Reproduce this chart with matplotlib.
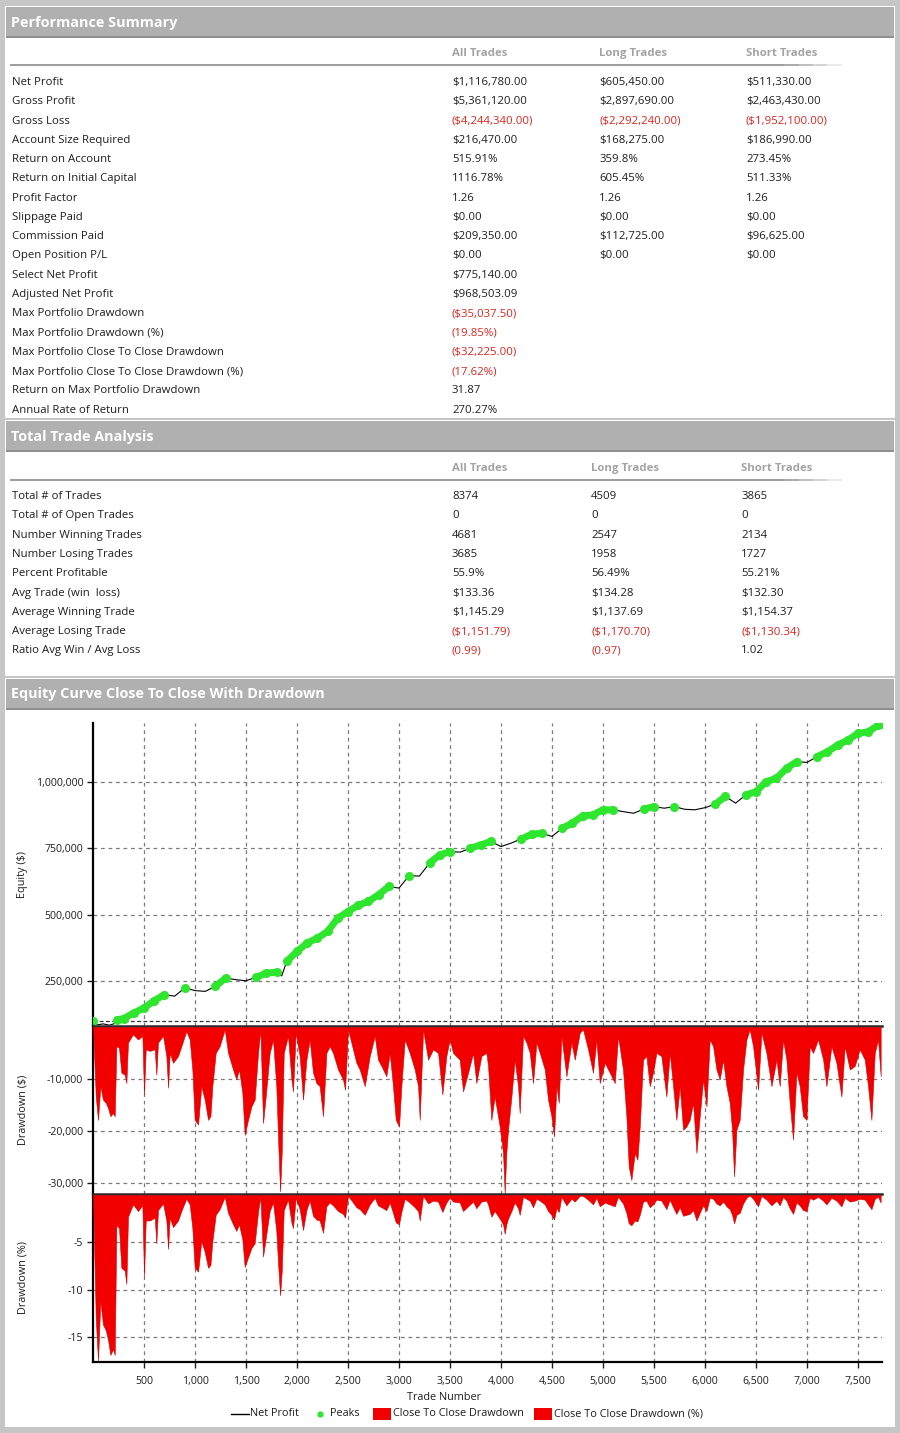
import numpy as np
import matplotlib.pyplot as plt
from matplotlib.patches import Rectangle
from matplotlib.lines import Line2D
from matplotlib.collections import LineCollection
from matplotlib.ticker import FuncFormatter

# ---------------- table data ----------------
col_heads = ["All Trades", "Long Trades", "Short Trades"]

perf_labels = [
    "Net Profit", "Gross Profit", "Gross Loss", "Account Size Required",
    "Return on Account", "Return on Initial Capital", "Profit Factor",
    "Slippage Paid", "Commission Paid", "Open Position P/L", "Select Net Profit",
    "Adjusted Net Profit", "Max Portfolio Drawdown", "Max Portfolio Drawdown (%)",
    "Max Portfolio Close To Close Drawdown", "Max Portfolio Close To Close Drawdown (%)",
    "Return on Max Portfolio Drawdown", "Annual Rate of Return",
]
perf_all = [
    "$1,116,780.00", "$5,361,120.00", "($4,244,340.00)", "$216,470.00", "515.91%",
    "1116.78%", "1.26", "$0.00", "$209,350.00", "$0.00", "$775,140.00", "$968,503.09",
    "($35,037.50)", "(19.85%)", "($32,225.00)", "(17.62%)", "31.87", "270.27%",
]
perf_long = [
    "$605,450.00", "$2,897,690.00", "($2,292,240.00)", "$168,275.00", "359.8%",
    "605.45%", "1.26", "$0.00", "$112,725.00", "$0.00",
]
perf_short = [
    "$511,330.00", "$2,463,430.00", "($1,952,100.00)", "$186,990.00", "273.45%",
    "511.33%", "1.26", "$0.00", "$96,625.00", "$0.00",
]

trade_labels = [
    "Total # of Trades", "Total # of Open Trades", "Number Winning Trades",
    "Number Losing Trades", "Percent Profitable", "Avg Trade (win  loss)",
    "Average Winning Trade", "Average Losing Trade", "Ratio Avg Win / Avg Loss",
]
trade_all = ["8374", "0", "4681", "3685", "55.9%", "$133.36", "$1,145.29", "($1,151.79)", "(0.99)"]
trade_long = ["4509", "0", "2547", "1958", "56.49%", "$134.28", "$1,137.69", "($1,170.70)", "(0.97)"]
trade_short = ["3865", "0", "2134", "1727", "55.21%", "$132.30", "$1,154.37", "($1,130.34)", "1.02"]

# ---------------- chart data ----------------
initial_capital = 100000
eq_trade = [0, 40, 100, 160, 220, 240, 300, 400, 500, 600, 700, 800, 900, 1000, 1100,
            1200, 1300, 1400, 1500, 1600, 1700, 1800, 1850, 1900, 2000, 2100, 2200, 2300,
            2400, 2500, 2600, 2700, 2800, 2900, 3000, 3100, 3200, 3300, 3400, 3500, 3600,
            3700, 3800, 3900, 4000, 4100, 4200, 4300, 4400, 4500, 4600, 4700, 4800, 4900,
            5000, 5100, 5200, 5300, 5400, 5500, 5600, 5700, 5800, 5900, 6000, 6100, 6200,
            6300, 6400, 6500, 6600, 6700, 6800, 6900, 7000, 7100, 7200, 7300, 7400, 7500,
            7600, 7700, 7735]
equity = [100000, 86000, 90000, 85000, 92000, 106000, 110000, 131000, 150000, 177000,
          200000, 194000, 225000, 215000, 212000, 231000, 262000, 256000, 252000, 265000,
          281000, 284000, 270000, 325000, 362000, 394000, 412000, 437000, 487000, 512000,
          535000, 550000, 575000, 606000, 600000, 647000, 645000, 694000, 725000, 737000,
          735000, 750000, 762000, 775000, 756000, 769000, 785000, 802000, 806000, 794000,
          825000, 844000, 871000, 875000, 894000, 894000, 887000, 881000, 897000, 906000,
          900000, 906000, 896000, 894000, 902000, 915000, 944000, 919000, 950000, 962000,
          1000000, 1012000, 1050000, 1075000, 1072000, 1094000, 1112000, 1137000, 1156000,
          1181000, 1187000, 1212000, 1217000]

dd_trade = [0, 27, 49, 72, 98, 125, 147, 170, 196, 213, 229, 255, 278, 311, 327, 343, 392,
            441, 484, 500, 517, 556, 605, 621, 637, 687, 719, 736, 752, 785, 834, 866, 915,
            948, 974, 997, 1030, 1062, 1095, 1128, 1151, 1170, 1203, 1242, 1291, 1324, 1373,
            1405, 1432, 1464, 1487, 1520, 1553, 1585, 1618, 1641, 1667, 1693, 1732, 1765,
            1797, 1817, 1834, 1850, 1870, 1912, 1945, 1961, 1987, 2026, 2059, 2092, 2124,
            2157, 2190, 2222, 2255, 2288, 2320, 2353, 2402, 2451, 2471, 2500, 2549, 2582,
            2615, 2664, 2713, 2762, 2794, 2827, 2876, 2909, 2941, 2968, 3000, 3023, 3056,
            3105, 3154, 3187, 3203, 3236, 3285, 3334, 3383, 3425, 3464, 3497, 3530, 3595,
            3628, 3677, 3726, 3758, 3807, 3856, 3873, 3905, 3938, 3987, 4020, 4036, 4052,
            4069, 4102, 4134, 4167, 4183, 4216, 4249, 4282, 4314, 4347, 4380, 4429, 4461,
            4494, 4520, 4543, 4566, 4592, 4641, 4690, 4723, 4772, 4804, 4853, 4902, 4935,
            4968, 5017, 5066, 5115, 5147, 5196, 5229, 5252, 5278, 5311, 5337, 5360, 5392,
            5425, 5458, 5490, 5523, 5572, 5621, 5654, 5687, 5719, 5752, 5785, 5817, 5850,
            5883, 5916, 5948, 5981, 6014, 6046, 6079, 6112, 6144, 6177, 6210, 6242, 6265,
            6285, 6308, 6340, 6373, 6406, 6438, 6471, 6520, 6553, 6602, 6651, 6700, 6732,
            6765, 6798, 6830, 6863, 6896, 6928, 6961, 6994, 7027, 7059, 7108, 7158, 7190,
            7239, 7288, 7337, 7370, 7419, 7468, 7517, 7566, 7598, 7631, 7664, 7696, 7722]
dd_usd = [0, -13400, -17900, -11400, -14000, -14600, -15600, -17200, -16600, -17200, -3700,
          -4000, -8800, -9200, -10800, -3000, -1400, -2400, -1700, -13000, -4300, -4600,
          -4300, -9200, -3000, -1700, -5600, -11700, -5000, -6900, -5600, -3700, -800, -2400,
          -8200, -17900, -18800, -11400, -14000, -17900, -17200, -11400, -5000, -3700, -450,
          -5000, -8200, -10100, -8200, -12700, -20800, -17900, -15300, -14000, -5000, -450,
          -18500, -13400, -5000, -2400, -11400, -23000, -31700, -24300, -5000, -1700, -10100,
          -12400, -1100, -5600, -14000, -6300, -2400, -8800, -10800, -11400, -17200, -5000,
          -3700, -5000, -8200, -10100, -12100, -450, -4300, -6900, -8200, -11400, -5600,
          -1700, -6300, -7500, -9500, -5000, -11400, -17900, -19200, -11400, -2400, -5000,
          -8200, -11400, -17900, -450, -6300, -4300, -5000, -13000, -5600, -2400, -5000,
          -6300, -12400, -8800, -5000, -10800, -5600, -5000, -7500, -17900, -13400, -19200,
          -24300, -32100, -24300, -19800, -13400, -6300, -11400, -16600, -1700, -3000,
          -5000, -10800, -3000, -5000, -8200, -14000, -17200, -21100, -11400, -14600, -1700,
          -9500, -3000, -6300, -1100, -450, -4300, -8800, -2400, -10800, -6900, -8800,
          -10800, -1700, -8200, -17200, -26900, -29500, -24300, -25600, -19200, -6300, -5600,
          -11400, -8800, -5000, -5600, -13400, -5000, -11400, -17900, -11400, -19800, -19200,
          -17900, -14600, -24300, -17200, -10100, -15300, -2400, -3700, -8200, -10100, -6300,
          -11400, -14600, -19800, -28800, -19800, -17900, -8200, -2400, -450, -3700, -12100,
          -1100, -5000, -11400, -6300, -11400, -2400, -6300, -14600, -21700, -8800, -11400,
          -17200, -17900, -3700, -5000, -2400, -6300, -11400, -3700, -6900, -13400, -3700,
          -8200, -7500, -4300, -6300, -11400, -17900, -5000, -2400, -9500]
dd_pct = [0, -13.1, -17.5, -11.2, -13.7, -14.3, -15.3, -16.9, -16.3, -16.9, -3.2, -3.5, -7.7,
          -8.0, -9.4, -2.3, -1.0, -1.7, -1.1, -8.6, -2.7, -2.7, -2.4, -5.1, -1.6, -0.9, -2.7,
          -5.7, -2.4, -3.4, -2.7, -1.7, -0.4, -1.0, -3.5, -7.7, -8.1, -4.9, -6.0, -7.7, -7.4,
          -4.9, -2.1, -1.5, -0.2, -1.9, -3.1, -3.8, -3.1, -4.7, -7.6, -6.6, -5.6, -5.1, -1.8,
          -0.2, -6.5, -4.6, -1.7, -0.8, -3.8, -7.7, -10.6, -8.1, -1.6, -0.5, -2.9, -3.5,
          -0.3, -1.5, -3.7, -1.6, -0.6, -2.2, -2.6, -2.7, -4.0, -1.2, -0.8, -1.1, -1.7, -2.0,
          -2.4, -0.1, -0.8, -1.3, -1.5, -2.1, -1.0, -0.3, -1.1, -1.3, -1.6, -0.8, -1.9, -2.9,
          -3.1, -1.8, -0.4, -0.8, -1.3, -1.7, -2.7, -0.1, -0.9, -0.6, -0.7, -1.8, -0.8, -0.3,
          -0.7, -0.8, -1.7, -1.2, -0.7, -1.4, -0.7, -0.6, -1.0, -2.3, -1.7, -2.5, -3.1, -4.1,
          -3.1, -2.5, -1.7, -0.8, -1.4, -2.1, -0.2, -0.4, -0.6, -1.3, -0.4, -0.6, -1.0, -1.7,
          -2.1, -2.6, -1.4, -1.8, -0.2, -1.1, -0.4, -0.7, -0.1, -0.1, -0.5, -1.0, -0.3, -1.2,
          -0.8, -1.0, -1.2, -0.2, -0.9, -1.9, -3.0, -3.2, -2.7, -2.8, -2.1, -0.7, -0.6, -1.3,
          -1.0, -0.5, -0.6, -1.5, -0.5, -1.3, -2.0, -1.3, -2.2, -2.1, -2.0, -1.6, -2.7, -1.9,
          -1.1, -1.7, -0.3, -0.4, -0.9, -1.1, -0.7, -1.2, -1.5, -2.1, -3.0, -2.1, -1.9, -0.9,
          -0.3, -0.05, -0.4, -1.2, -0.1, -0.5, -1.1, -0.6, -1.1, -0.2, -0.6, -1.4, -2.0,
          -0.8, -1.1, -1.6, -1.7, -0.3, -0.5, -0.2, -0.6, -1.0, -0.3, -0.6, -1.2, -0.3, -0.7,
          -0.6, -0.4, -0.5, -1.0, -1.5, -0.4, -0.2, -0.8]

x_ticks = list(range(500, 8000, 500))
eq_ticks = [250000, 500000, 750000, 1000000]
dd_usd_ticks = [-10000, -20000, -30000]
dd_pct_ticks = [-5, -10, -15]

legend_items = ["Net Profit", "Peaks", "Close To Close Drawdown", "Close To Close Drawdown (%)"]

# ---------------- styling ----------------
W, H = 900, 1433
plt.rcParams["font.family"] = ["Open Sans", "DejaVu Sans"]
TXT = "#1e1e1e"
RED_TXT = "#e0231f"
HEAD_GRAY = "#a3a3a3"
BAR_GRAY = "#b0b0b0"
DD_RED = "#f20000"
PEAK_GREEN = "#2ee62e"
GRID = dict(color="#7a7a7a", linestyle=(0, (3, 3)), linewidth=0.9)
FS = 8.2

fig = plt.figure(figsize=(9, 14.33), dpi=100)
fig.patch.set_facecolor("#c6c6c6")


def fx(x):
    return x / W


def fy(y):
    return 1 - y / H


def box(x0, y0, x1, y1, color, z=-10):
    fig.add_artist(Rectangle((fx(x0), fy(y1)), (x1 - x0) / W, (y1 - y0) / H,
                             facecolor=color, edgecolor="none", zorder=z,
                             transform=fig.transFigure))


def section(y0, y1, title):
    # white body plus gray header bar
    box(5, y0, 895, y1, "white")
    box(6, y0 + 1, 894, y0 + 31, BAR_GRAY, z=-9)
    box(6, y0 + 30, 894, y0 + 32, "#8f8f8f", z=-9)
    fig.text(fx(11), fy(y0 + 16.5), title, color="white", fontsize=10.4,
             fontweight="bold", va="center", ha="left")


def fading_rule(y):
    xs = np.linspace(10, 856, 60)
    segs = [[(fx(a), fy(y)), (fx(b), fy(y))] for a, b in zip(xs[:-1], xs[1:])]
    alphas = [1.0 if b < 790 else max(0.0, 1 - (b - 790) / 66) for b in xs[1:]]
    cols = [(0.55, 0.55, 0.55, a) for a in alphas]
    fig.add_artist(LineCollection(segs, colors=cols, linewidths=1.2, transform=fig.transFigure))


def put(x, y, s):
    color = RED_TXT if s.startswith("(") else TXT
    fig.text(fx(x), fy(y), s, color=color, fontsize=FS, va="center", ha="left")


# ---------------- section 1: performance summary ----------------
section(6, 418, "Performance Summary")
for x, h in zip([452, 599, 746], col_heads):
    fig.text(fx(x), fy(53.5), h, color=HEAD_GRAY, fontsize=FS, fontweight="bold", va="center")
fading_rule(65)
for i, lab in enumerate(perf_labels):
    y = 82.5 + i * 19.27
    fig.text(fx(12), fy(y), lab, color=TXT, fontsize=FS, va="center")
    put(452, y, perf_all[i])
    if i < len(perf_long):
        put(599, y, perf_long[i])
        put(746, y, perf_short[i])

# ---------------- section 2: total trade analysis ----------------
section(420, 676, "Total Trade Analysis")
for x, h in zip([452, 591, 741], col_heads):
    fig.text(fx(x), fy(468.5), h, color=HEAD_GRAY, fontsize=FS, fontweight="bold", va="center")
fading_rule(480)
for i, lab in enumerate(trade_labels):
    y = 496.5 + i * 19.3
    fig.text(fx(12), fy(y), lab, color=TXT, fontsize=FS, va="center")
    put(452, y, trade_all[i])
    put(591, y, trade_long[i])
    put(741, y, trade_short[i])

# ---------------- section 3: chart ----------------
section(678, 1427, "Equity Curve Close To Close With Drawdown")

AX_L, AX_R = 93, 882
comma = FuncFormatter(lambda v, p: f"{v:,.0f}")


def make_ax(top, bottom):
    ax = fig.add_axes([fx(AX_L), fy(bottom), (AX_R - AX_L) / W, (bottom - top) / H])
    ax.set_facecolor("white")
    ax.set_xlim(0, 7735)
    ax.set_xticks(x_ticks)
    ax.grid(True, **GRID)
    ax.set_axisbelow(True)
    for s in ["right", "bottom", "top"]:
        ax.spines[s].set_visible(False)
    ax.spines["left"].set_linewidth(1.6)
    ax.tick_params(axis="y", direction="out", length=4, width=1, labelsize=7.6,
                   colors=TXT, pad=3)
    ax.tick_params(axis="x", length=0, labelbottom=False)
    ax.yaxis.set_major_formatter(comma)
    return ax


# equity
ax1 = make_ax(723, 1026)
ax1.set_ylim(82000, 1220000)
ax1.set_yticks(eq_ticks)
ax1.axhline(initial_capital, color="#333333", linestyle=(0, (3, 2)), linewidth=0.9)
eq = np.array(equity, dtype=float)
t_eq = np.array(eq_trade, dtype=float)
ax1.plot(t_eq, eq, color="black", linewidth=0.8, zorder=3)
is_peak = eq >= np.maximum.accumulate(eq)
peaks = np.where(is_peak, eq, np.nan)
ax1.plot(t_eq, peaks, color=PEAK_GREEN, linewidth=5, marker="o", markersize=5.5,
         solid_capstyle="round", zorder=4)
ax1.set_ylabel("Equity ($)", fontsize=7.8, color=TXT)

# drawdown $
ax2 = make_ax(1026, 1194)
ax2.set_ylim(-32200, 200)
ax2.set_yticks(dd_usd_ticks)
ax2.spines["top"].set_visible(True)
ax2.spines["top"].set_linewidth(1.8)
ax2.spines["top"].set_color("#2a2a2a")
ax2.fill_between(dd_trade, dd_usd, 0, color=DD_RED, linewidth=0.4, edgecolor="#d40000", zorder=3)
ax2.set_ylabel("Drawdown ($)", fontsize=7.8, color=TXT)

# drawdown %
ax3 = make_ax(1194, 1362)
ax3.set_ylim(-17.65, 0.1)
ax3.set_yticks(dd_pct_ticks)
ax3.spines["top"].set_visible(True)
ax3.spines["top"].set_linewidth(1.8)
ax3.spines["top"].set_color("#2a2a2a")
ax3.spines["bottom"].set_visible(True)
ax3.spines["bottom"].set_linewidth(1.6)
ax3.fill_between(dd_trade, dd_pct, 0, color=DD_RED, linewidth=0.4, edgecolor="#d40000", zorder=3)
ax3.set_ylabel("Drawdown (%)", fontsize=7.8, color=TXT)
ax3.tick_params(axis="x", direction="out", length=4, width=1, labelbottom=True,
                labelsize=7.6, colors=TXT, pad=6)
ax3.xaxis.set_major_formatter(comma)

for ax in (ax1, ax2, ax3):
    bb = ax.get_position()
    ax.yaxis.set_label_coords((fx(28) - bb.x0) / bb.width, 0.5)

fig.text(fx(444), fy(1397.5), "Trade Number", fontsize=7.8, color=TXT, ha="center", va="center")

# legend
ly = 1414
fig.add_artist(Line2D([fx(231), fx(249)], [fy(ly), fy(ly)], color="black", linewidth=1,
                      transform=fig.transFigure))
fig.text(fx(250), fy(ly), legend_items[0], fontsize=7.8, color=TXT, va="center")
fig.add_artist(Line2D([fx(320)], [fy(ly)], marker="o", markersize=3.5, color=PEAK_GREEN,
                      linestyle="none", transform=fig.transFigure))
fig.text(fx(330), fy(ly), legend_items[1], fontsize=7.8, color=TXT, va="center")
box(373, 1408, 391, 1420, DD_RED, z=2)
fig.text(fx(393), fy(ly), legend_items[2], fontsize=7.8, color=TXT, va="center")
box(534, 1408, 552, 1420, DD_RED, z=2)
fig.text(fx(554), fy(ly), legend_items[3], fontsize=7.8, color=TXT, va="center")

fig.savefig("out.png", dpi=100, facecolor=fig.get_facecolor())
